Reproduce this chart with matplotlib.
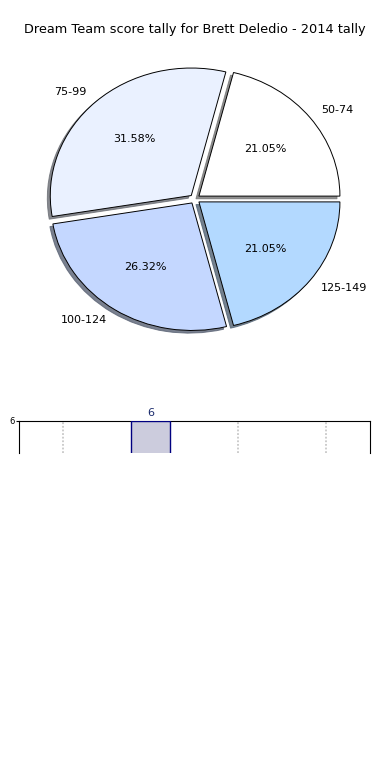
import matplotlib
matplotlib.use("Agg")
import matplotlib.pyplot as plt
import numpy as np

categories = ["50-74", "75-99", "100-124", "125-149"]
counts = [4, 6, 5, 4]
pie_colors = ["#ffffff", "#eaf1ff", "#c4d7ff", "#b3d9ff"]
title = "Dream Team score tally for Brett Deledio - 2014 tally"

fig = plt.figure(figsize=(3.9, 7.8), dpi=100, facecolor="white")

# pie (not aspect-equal, like the old default)
rx, ry = 141.0, 127.5
cx, cy = 194.8, 199.0
ax = fig.add_axes([(cx - 1.25 * rx) / 390, (780 - cy - 1.25 * ry) / 780, 2.5 * rx / 390, 2.5 * ry / 780])
ax.pie(
    counts,
    labels=categories,
    colors=pie_colors,
    explode=[0.037] * len(counts),
    autopct="%.2f%%",
    labeldistance=1.1,
    shadow={"ox": -0.015, "oy": -0.015, "shade": 0.55, "alpha": 0.8},
    startangle=0,
    wedgeprops={"edgecolor": "black", "linewidth": 0.7},
    textprops={"fontsize": 8},
)
ax.set_aspect("auto")
ax.set_xlim(-1.25, 1.25)
ax.set_ylim(-1.25, 1.25)
fig.text(0.5, 1 - 30 / 780, title, ha="center", va="center", fontsize=9.3)

# bar strip below (only the top of it is visible)
bx = fig.add_axes([19 / 390, 327 / 780, 351 / 390, 32 / 780])
x = np.arange(len(categories))
bars = bx.bar(x, counts, width=0.45, facecolor="#ccccdd", edgecolor="navy", linewidth=1.0, zorder=3)
for b, v in zip(bars, counts):
    if v >= 6:
        bx.text(b.get_x() + b.get_width() / 2, v + 0.04, str(v), ha="center", va="bottom",
                fontsize=8, color="#1a2a6c", clip_on=False)
bx.set_xlim(-0.5, len(categories) - 0.5)
bx.set_ylim(5.5, 6)
bx.set_yticks([6])
bx.tick_params(axis="y", labelsize=6, length=2, pad=1)
bx.set_xticks(x)
bx.set_xticklabels([])
bx.tick_params(axis="x", length=0)
bx.grid(axis="x", color="#c8c8c8", linestyle=(0, (1, 1)), linewidth=1.3, zorder=0)
bx.spines["bottom"].set_visible(False)

fig.savefig("out.png", dpi=100)
